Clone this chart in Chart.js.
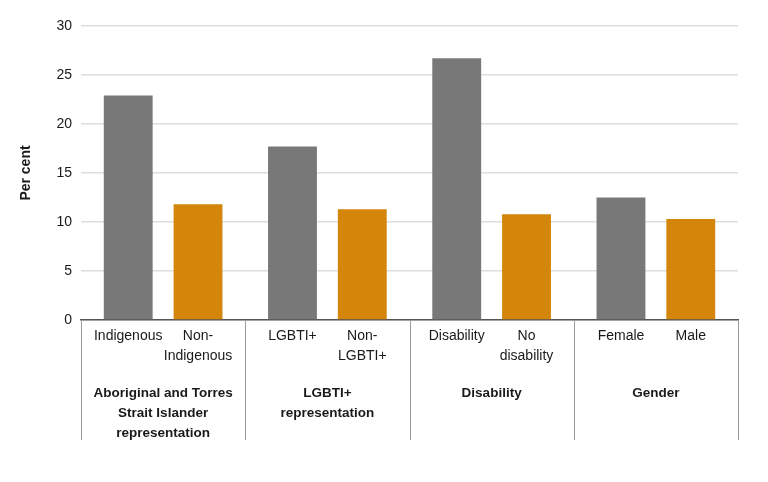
<!DOCTYPE html>
<html>
<head>
<meta charset="utf-8">
<script src="https://cdn.jsdelivr.net/npm/chart.js@4.4.1/dist/chart.umd.min.js"></script>
<style>
  html, body { margin: 0; padding: 0; background: #ffffff; }
  #wrap { width: 768px; height: 482px; position: relative; }
</style>
</head>
<body>
<div id="wrap"><canvas id="c" width="768" height="482"></canvas></div>
<script>
// ---- data ----
const groupLabels = [
  ['Aboriginal and Torres', 'Strait Islander', 'representation'],
  ['LGBTI+', 'representation'],
  'Disability',
  'Gender'
];
const firstLabels = ['Indigenous', 'LGBTI+', 'Disability', 'Female'];
const secondLabels = [['Non-', 'Indigenous'], ['Non-', 'LGBTI+'], ['No', 'disability'], 'Male'];
const firstValues = [22.9, 17.7, 26.7, 12.5];
const secondValues = [11.8, 11.3, 10.8, 10.3];
const yTickValues = [0, 5, 10, 15, 20, 25, 30];
const yTitle = 'Per cent';

const FONT = "'Liberation Sans', Arial, sans-serif";
const GRAY = '#787878';
const ORANGE = '#d4860b';

const subLabelPlugin = {
  id: 'subLabels',
  afterDraw(chart) {
    const ctx = chart.ctx;
    const area = chart.chartArea;
    const xs = chart.scales.x;
    ctx.save();
    // group dividers
    const catW = xs.width / groupLabels.length;
    ctx.strokeStyle = '#9a9a9a';
    ctx.lineWidth = 1;
    for (let i = 0; i <= groupLabels.length; i++) {
      const x = Math.round(xs.left + i * catW) + 0.5;
      ctx.beginPath();
      ctx.moveTo(x, area.bottom);
      ctx.lineTo(x, area.bottom + 120);
      ctx.stroke();
    }
    // sub-category labels under each bar
    ctx.fillStyle = '#1a1a1a';
    ctx.font = "14px " + FONT;
    ctx.textAlign = 'center';
    ctx.textBaseline = 'middle';
    const sets = [firstLabels, secondLabels];
    sets.forEach((labels, di) => {
      const meta = chart.getDatasetMeta(di);
      meta.data.forEach((bar, i) => {
        const lines = [].concat(labels[i]);
        lines.forEach((t, li) => {
          ctx.fillText(t, bar.x, area.bottom + 16 + li * 20);
        });
      });
    });
    ctx.restore();
  }
};

new Chart(document.getElementById('c'), {
  type: 'bar',
  data: {
    labels: groupLabels,
    datasets: [
      { label: 'Group', data: firstValues, backgroundColor: GRAY, categoryPercentage: 0.85, barPercentage: 0.7 },
      { label: 'Comparison', data: secondValues, backgroundColor: ORANGE, categoryPercentage: 0.85, barPercentage: 0.7 }
    ]
  },
  options: {
    responsive: false,
    animation: false,
    devicePixelRatio: 1,
    layout: { padding: { left: 0, right: 30, top: 26, bottom: 0 } },
    plugins: { legend: { display: false }, tooltip: { enabled: false } },
    scales: {
      x: {
        grid: { display: false, drawTicks: false },
        border: { display: true, color: '#555555', width: 1.5 },
        ticks: {
          color: '#1a1a1a',
          font: { family: FONT, size: 13.5, weight: 'bold', lineHeight: 1.48 },
          padding: 63,
          maxRotation: 0,
          autoSkip: false
        },
        afterFit(scale) { scale.height = 162; }
      },
      y: {
        min: 0,
        max: 30,
        afterBuildTicks(scale) { scale.ticks = yTickValues.map(v => ({ value: v })); },
        grid: { color: '#dedede', lineWidth: 1.5, drawTicks: false },
        border: { display: false },
        ticks: {
          color: '#1a1a1a',
          font: { family: FONT, size: 14 },
          padding: 9
        },
        title: {
          display: true,
          text: yTitle,
          color: '#1a1a1a',
          font: { family: FONT, size: 14, weight: 'bold' },
          padding: { top: 18, bottom: 0 }
        },
        afterFit(scale) { scale.width = 81; }
      }
    }
  },
  plugins: [subLabelPlugin]
});
</script>
</body>
</html>
